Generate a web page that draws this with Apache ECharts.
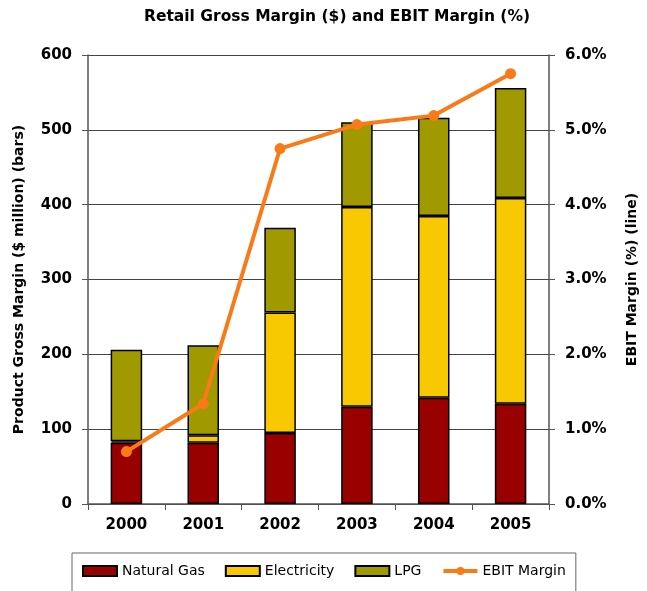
<!DOCTYPE html>
<html>
<head>
<meta charset="utf-8">
<script src="https://cdn.jsdelivr.net/npm/echarts@6/dist/echarts.min.js"></script>
<style>html,body{margin:0;padding:0;background:#fff}#c{width:647px;height:591px}</style>
</head>
<body>
<div id="c"></div>
<script>
const years = ['2000', '2001', '2002', '2003', '2004', '2005'];
const naturalGas = [82, 82, 95, 130, 142, 134];
const electricity = [2, 10, 161, 267, 243, 275];
const lpg = [122, 120, 113, 113, 131, 147];
const ebitMargin = [0.70, 1.34, 4.75, 5.07, 5.19, 5.75];
const leftTicks = [0, 100, 200, 300, 400, 500, 600];
const rightTicks = [0, 1, 2, 3, 4, 5, 6];

const FONT = 'DejaVu Sans';
const chart = echarts.init(document.getElementById('c'), null, {renderer: 'canvas'});
const barStyle = (color) => ({color: color, borderColor: '#000', borderWidth: 1.5});
chart.setOption({
  animation: false,
  backgroundColor: '#fff',
  title: {
    text: 'Retail Gross Margin ($) and EBIT Margin (%)',
    left: 332, top: 4, textAlign: 'center',
    textStyle: {fontFamily: FONT, fontWeight: 'bold', fontSize: 15.5, color: '#000'}
  },
  legend: {
    left: 72, top: 553,
    padding: [11, 10, 20, 10],
    itemGap: 20,
    itemWidth: 34, itemHeight: 10,
    borderColor: '#666', borderWidth: 1,
    lineStyle: {width: 4},
    textStyle: {fontFamily: FONT, fontSize: 14, color: '#000'},
    data: [
      {name: 'Natural Gas', icon: 'rect'},
      {name: 'Electricity', icon: 'rect'},
      {name: 'LPG', icon: 'rect'},
      {name: 'EBIT Margin'}
    ]
  },
  grid: {left: 88, right: 89, top: 55, bottom: 87, containLabel: false},
  xAxis: {
    type: 'category', data: years,
    axisLine: {lineStyle: {color: '#555', width: 1.5}},
    axisTick: {show: true, length: 6, alignWithLabel: false, lineStyle: {color: '#555'}},
    axisLabel: {fontFamily: FONT, fontWeight: 'bold', fontSize: 15, color: '#000', margin: 14}
  },
  yAxis: [{
    type: 'value', min: leftTicks[0], max: leftTicks[leftTicks.length - 1], interval: 100,
    name: 'Product Gross Margin ($ million) (bars)', nameLocation: 'middle', nameRotate: 90, nameGap: 62,
    nameTextStyle: {fontFamily: FONT, fontWeight: 'bold', fontSize: 14, color: '#000'},
    axisLine: {show: true, lineStyle: {color: '#555', width: 1.5}},
    axisTick: {show: true, length: 6, lineStyle: {color: '#555'}},
    axisLabel: {fontFamily: FONT, fontWeight: 'bold', fontSize: 15, color: '#000', margin: 16},
    splitLine: {show: true, lineStyle: {color: '#444', width: 1}}
  }, {
    type: 'value', min: rightTicks[0], max: rightTicks[rightTicks.length - 1], interval: 1,
    name: 'EBIT Margin (%) (line)', nameLocation: 'middle', nameRotate: 90, nameGap: 76,
    nameTextStyle: {fontFamily: FONT, fontWeight: 'bold', fontSize: 14, color: '#000'},
    axisLine: {show: true, lineStyle: {color: '#555', width: 1.5}},
    axisTick: {show: true, length: 6, lineStyle: {color: '#555'}},
    axisLabel: {fontFamily: FONT, fontWeight: 'bold', fontSize: 15, color: '#000', margin: 16,
      formatter: (v) => v.toFixed(1) + '%'},
    splitLine: {show: false}
  }],
  series: [
    {name: 'Natural Gas', type: 'bar', stack: 'g', data: naturalGas, barWidth: '41%', itemStyle: barStyle('#990000')},
    {name: 'Electricity', type: 'bar', stack: 'g', data: electricity, barWidth: '41%', itemStyle: barStyle('#F8C800')},
    {name: 'LPG', type: 'bar', stack: 'g', data: lpg, barWidth: '41%', itemStyle: barStyle('#A09A00')},
    {name: 'EBIT Margin', type: 'line', yAxisIndex: 1, data: ebitMargin,
      symbol: 'circle', symbolSize: 11,
      lineStyle: {color: '#F97A16', width: 4}, itemStyle: {color: '#F97A16'}, z: 5}
  ]
});
</script>
</body>
</html>
